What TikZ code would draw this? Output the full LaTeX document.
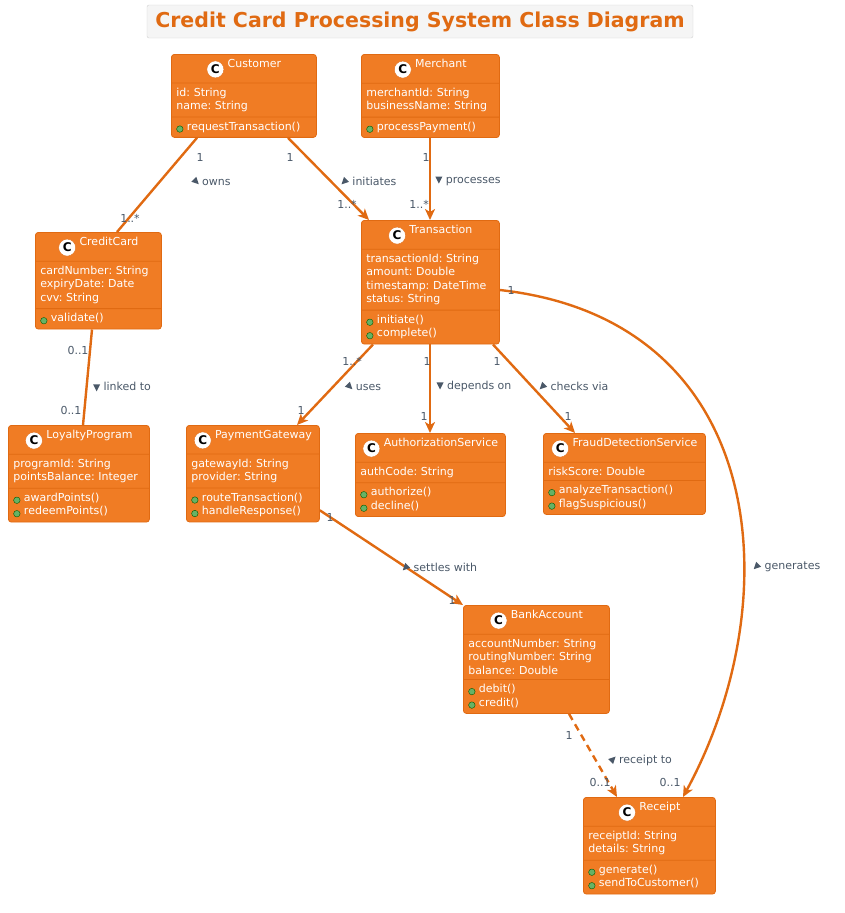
\documentclass[tikz,border=0pt]{standalone}
\usepackage{fontspec}
\setmainfont{DejaVu Sans}
\usetikzlibrary{shapes.multipart,arrows.meta,positioning,calc}
\definecolor{umlfill}{HTML}{F07C24}
\definecolor{umlline}{HTML}{E06A12}
\definecolor{umlgray}{HTML}{4A5868}
\frenchspacing
\newcommand\clshead[1]{\hbox to \linewidth{\hss\tikz[baseline=-0.7ex]\node[circle,fill=white,draw=umlline,inner sep=0pt,minimum size=17pt,text=black,font=\bfseries\fontsize{12}{12}\selectfont]{C};\ #1\hss}}
\newcommand\op{{\tikz[baseline=-0.6ex]\node[circle,fill=green!50!black!60,draw=green!35!black,inner sep=0pt,minimum size=6.5pt]{};}\color{white}\ }
\newcommand\tri[1]{{\tikz[baseline=-0.6ex]\fill[umlgray,rotate=#1] (4pt,0pt) -- (-3pt,3.5pt) -- (-3pt,-3.5pt) -- cycle;}}
\tikzset{
	cls/.style={rectangle split, rectangle split parts=3, draw=umlline, fill=umlfill,
		rounded corners=3pt, text=white, anchor=north west, align=left,
		font=\fontsize{11}{13.5}\selectfont, inner xsep=5pt, inner ysep=4.5pt, thick},
	assoc/.style={draw=umlline, line width=2.4pt},
	nav/.style={assoc, -{Stealth[length=11pt,width=10pt,inset=3pt]}},
	lbl/.style={text=umlgray, font=\fontsize{11}{13}\selectfont, inner sep=0pt}
}
\begin{document}
\begin{tikzpicture}[x=1pt,y=-1pt]
   \useasboundingbox (0,0) rectangle (845,913);
   % title
   \node[draw=gray!35, fill=gray!8, rounded corners=2pt, minimum width=546pt, minimum height=33pt,
         text=umlline, font=\bfseries\fontsize{20.5}{22}\selectfont] (title) at (420,21.5)
         {Credit Card Processing System Class Diagram};
   % classes
   \node[cls, text width=135pt] (cust) at (171,54)
      {\clshead{Customer}\nodepart{two}id: String\\name: String\nodepart{three}\op requestTransaction()};
   \node[cls, text width=128pt] (merch) at (361,54)
      {\clshead{Merchant}\nodepart{two}merchantId: String\\businessName: String\nodepart{three}\op processPayment()};
   \node[cls, text width=116pt] (card) at (35,232)
      {\clshead{CreditCard}\nodepart{two}cardNumber: String\\expiryDate: Date\\cvv: String\nodepart{three}\op validate()};
   \node[cls, text width=128pt] (trans) at (361,220)
      {\clshead{Transaction}\nodepart{two}transactionId: String\\amount: Double\\timestamp: DateTime\\status: String\nodepart{three}\op initiate()\\\op complete()};
   \node[cls, text width=131pt] (loyal) at (8,425)
      {\clshead{LoyaltyProgram}\nodepart{two}programId: String\\\mbox{pointsBalance: Integer}\nodepart{three}\op awardPoints()\\\op redeemPoints()};
   \node[cls, text width=123pt] (gate) at (186,425)
      {\clshead{PaymentGateway}\nodepart{two}gatewayId: String\\provider: String\nodepart{three}\op routeTransaction()\\\op handleResponse()};
   \node[cls, text width=140pt] (auth) at (355,433)
      {\clshead{AuthorizationService}\nodepart{two}authCode: String\nodepart{three}\op authorize()\\\op decline()};
   \node[cls, text width=152pt] (fraud) at (543,433)
      {\clshead{FraudDetectionService}\nodepart{two}riskScore: Double\nodepart{three}\op analyzeTransaction()\\\op flagSuspicious()};
   \node[cls, text width=136pt] (bank) at (463,605)
      {\clshead{BankAccount}\nodepart{two}accountNumber: String\\routingNumber: String\\balance: Double\nodepart{three}\op debit()\\\op credit()};
   \node[cls, text width=122pt] (rcpt) at (583,797)
      {\clshead{Receipt}\nodepart{two}receiptId: String\\details: String\nodepart{three}\op generate()\\\op sendToCustomer()};
   % associations
   \draw[assoc] ($(cust.south west)+(26,0)$) -- ($(card.north west)+(82,0)$);
   \draw[nav] ($(cust.south west)+(117,0)$) -- ($(trans.north west)+(8,0)$);
   \draw[nav] ($(merch.south west)+(69,0)$) -- ($(trans.north west)+(69,0)$);
   \draw[assoc] ($(card.south west)+(57,0)$) -- ($(loyal.north west)+(75,0)$);
   \draw[nav] ($(trans.south west)+(12,0)$) -- ($(gate.north west)+(111,0)$);
   \draw[nav] ($(trans.south west)+(69,0)$) -- ($(auth.north west)+(75,0)$);
   \draw[nav] ($(trans.south west)+(132,0)$) -- ($(fraud.north west)+(32,0)$);
   \draw[nav] ($(trans.north east)+(0,70)$) .. controls (770,320) and (790,600) .. ($(rcpt.north west)+(100,0)$);
   \draw[nav] ($(gate.south east)+(0,-12)$) -- (bank.north west);
   \draw[nav, dashed, dash pattern=on 7pt off 5pt] ($(bank.south west)+(106,0)$) -- ($(rcpt.north west)+(34,0)$);
   % multiplicities and names
   \node[lbl] (m1) at (200,157) {1};
   \node[lbl] (m2) at (130,218) {1..*};
   \node[lbl] (n1) at (211,181) {\tri{-45} owns};
   \node[lbl] (m3) at (290,157) {1};
   \node[lbl] (m4) at (347,204) {1..*};
   \node[lbl] (n2) at (369,181) {\tri{-135} initiates};
   \node[lbl] (m5) at (426,157) {1};
   \node[lbl] (m6) at (419,204) {1..*};
   \node[lbl] (n3) at (468,181) {\tri{-90} processes};
   \node[lbl] (m7) at (78,350) {0..1};
   \node[lbl] (m8) at (71,410) {0..1};
   \node[lbl] (n4) at (122,387) {\tri{-90} linked to};
   \node[lbl] (m9) at (352,361) {1..*};
   \node[lbl] (m10) at (301,410) {1};
   \node[lbl] (n5) at (363,386) {\tri{-45} uses};
   \node[lbl] (m11) at (427,361) {1};
   \node[lbl] (m12) at (424,416) {1};
   \node[lbl] (n6) at (474,386) {\tri{-90} depends on};
   \node[lbl] (m13) at (497,361) {1};
   \node[lbl] (m14) at (568,416) {1};
   \node[lbl] (n7) at (574,386) {\tri{-135} checks via};
   \node[lbl] (m15) at (511,290) {1};
   \node[lbl] (m16) at (670,782) {0..1};
   \node[lbl] (n8) at (787,567) {\tri{-135} generates};
   \node[lbl] (m17) at (330,517) {1};
   \node[lbl] (m18) at (452,600) {1};
   \node[lbl] (n9) at (440,567) {\tri{-135} settles with};
   \node[lbl] (m19) at (569,735) {1};
   \node[lbl] (m20) at (600,782) {0..1};
   \node[lbl] (n10) at (640,760) {\tri{45} receipt to};
\end{tikzpicture}
\end{document}
